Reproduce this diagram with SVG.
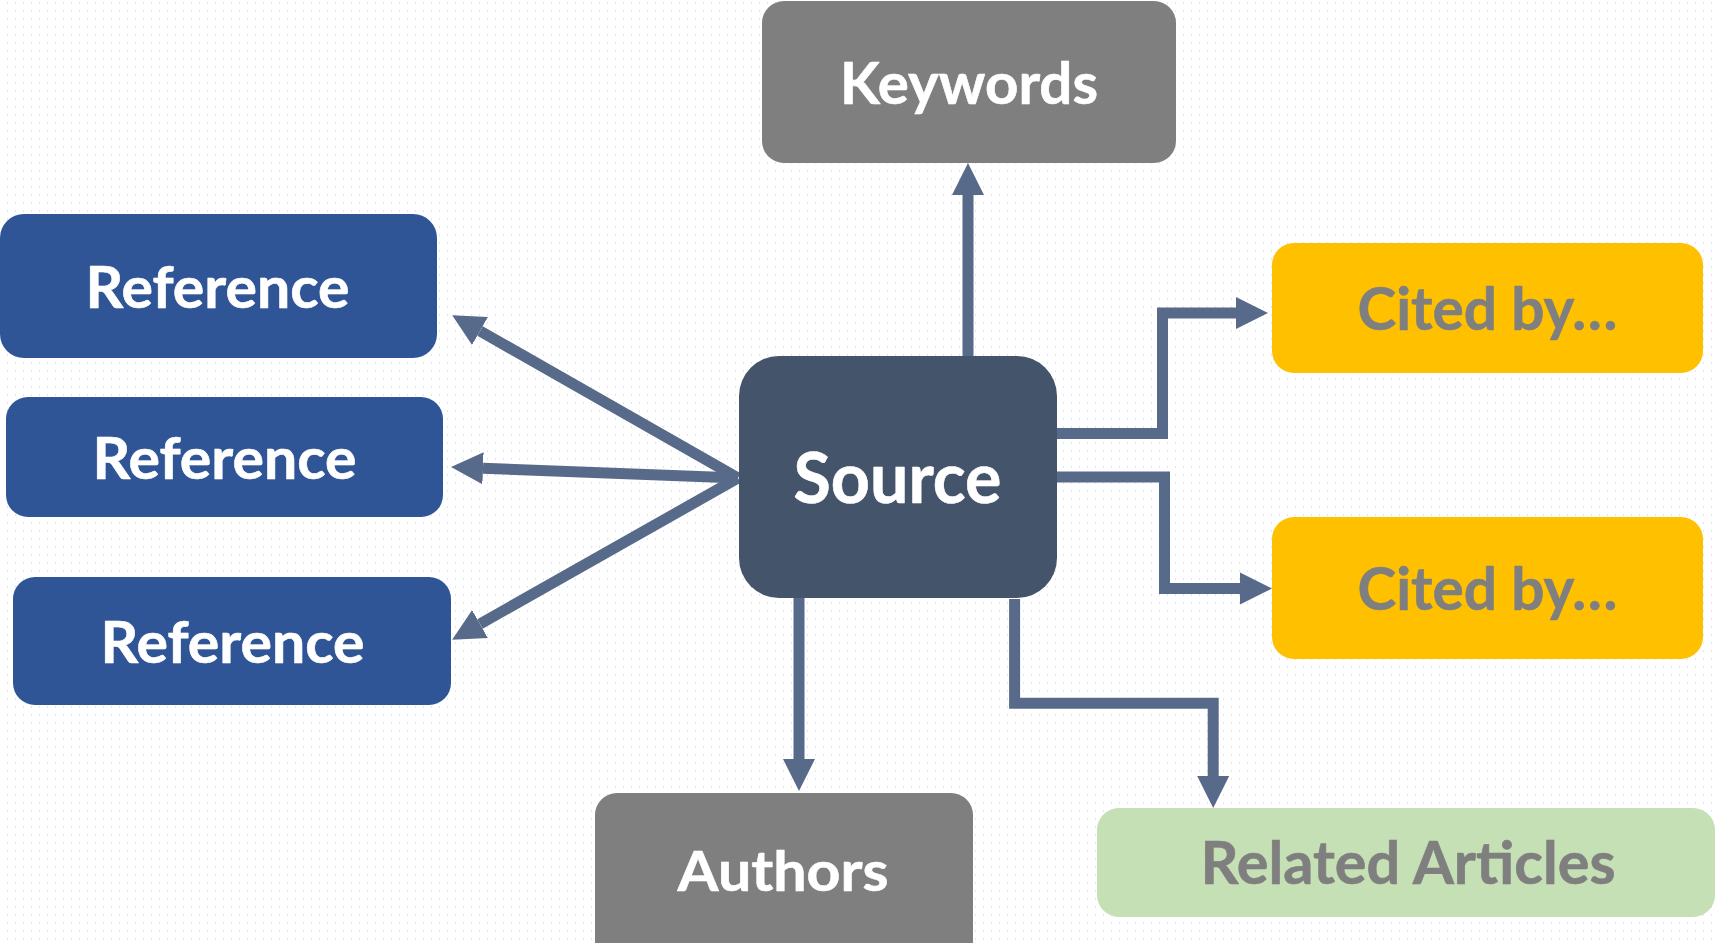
<svg xmlns="http://www.w3.org/2000/svg" width="1716" height="943" viewBox="0 0 1716 943">
  <style>
    .lbl { font-family: Lato, "Open Sans", "Liberation Sans", sans-serif; font-weight: 700; text-anchor: middle; stroke-width: 0.6; stroke-linejoin: round; }
    .w { fill: #ffffff; stroke: #ffffff; }
    .g { fill: #7f7f7f; stroke: #7f7f7f; }
    .ref { fill: #2f5597; }
    .grey { fill: #7f7f7f; }
    .cited { fill: #ffc000; }
    .conn { fill: none; stroke: #586a8a; stroke-width: 11; stroke-linejoin: miter; stroke-linecap: butt; marker-end: url(#head); }
  </style>
  <defs>
    <pattern id="dots" width="8" height="8" patternUnits="userSpaceOnUse">
      <rect x="7" y="2" width="2" height="2" fill="#dfe6f0"/>
    </pattern>
    <marker id="head" markerUnits="userSpaceOnUse" markerWidth="34" markerHeight="34" viewBox="0 -17 34 34" refX="0" refY="0" orient="auto">
      <path d="M0,-16 L32,0 L0,16 Z" fill="#586a8a"/>
    </marker>
  </defs>

  <!-- dotted backdrop -->
  <rect width="1716" height="943" fill="#ffffff"/>
  <rect width="1716" height="943" fill="url(#dots)"/>

  <g id="connectors">
    <path class="conn" d="M968,357 V195"/>
    <path class="conn" d="M738,478 L480,331"/>
    <path class="conn" d="M738,478 L483,468.2"/>
    <path class="conn" d="M738,478 L480,624"/>
    <path class="conn" d="M1057,433.5 H1162.5 V313 H1236"/>
    <path class="conn" d="M1057,477 H1164.5 V588.5 H1240"/>
    <path class="conn" d="M799,598 V759"/>
    <path class="conn" d="M1014.6,599 V703.3 H1213.2 V776"/>
  </g>

  <g id="keywords">
    <rect class="grey" x="762" y="1" width="414" height="162" rx="22"/>
    <text class="lbl w" x="969" y="104" font-size="57" textLength="258" lengthAdjust="spacingAndGlyphs">Keywords</text>
  </g>

  <g id="reference-1">
    <rect class="ref" x="0" y="214" width="437" height="144" rx="24"/>
    <text class="lbl w" x="217.5" y="308" font-size="57" textLength="264" lengthAdjust="spacingAndGlyphs">Reference</text>
  </g>

  <g id="reference-2">
    <rect class="ref" x="6" y="397" width="437" height="120" rx="22"/>
    <text class="lbl w" x="224.5" y="479" font-size="57" textLength="264" lengthAdjust="spacingAndGlyphs">Reference</text>
  </g>

  <g id="reference-3">
    <rect class="ref" x="13" y="577" width="438" height="128" rx="22"/>
    <text class="lbl w" x="232.5" y="663" font-size="57" textLength="264" lengthAdjust="spacingAndGlyphs">Reference</text>
  </g>

  <g id="source">
    <rect x="739" y="356" width="318" height="242" rx="40" fill="#44546a"/>
    <text class="lbl w" x="897.5" y="503" font-size="70" textLength="208" lengthAdjust="spacingAndGlyphs">Source</text>
  </g>

  <g id="cited-by-1">
    <rect class="cited" x="1272" y="243" width="431" height="130" rx="22"/>
    <text class="lbl g" x="1487.5" y="330" font-size="60" textLength="260" lengthAdjust="spacingAndGlyphs">Cited by…</text>
  </g>

  <g id="cited-by-2">
    <rect class="cited" x="1272" y="517" width="431" height="142" rx="22"/>
    <text class="lbl g" x="1487.5" y="610" font-size="60" textLength="260" lengthAdjust="spacingAndGlyphs">Cited by…</text>
  </g>

  <g id="authors">
    <rect class="grey" x="595" y="793" width="378" height="170" rx="22"/>
    <text class="lbl w" x="783" y="891" font-size="56" textLength="211" lengthAdjust="spacingAndGlyphs">Authors</text>
  </g>

  <g id="related-articles">
    <rect x="1097" y="808" width="618" height="109" rx="22" fill="#c5e0b4"/>
    <text class="lbl g" x="1408" y="884" font-size="59" textLength="415" lengthAdjust="spacingAndGlyphs">Related Articles</text>
  </g>
</svg>
